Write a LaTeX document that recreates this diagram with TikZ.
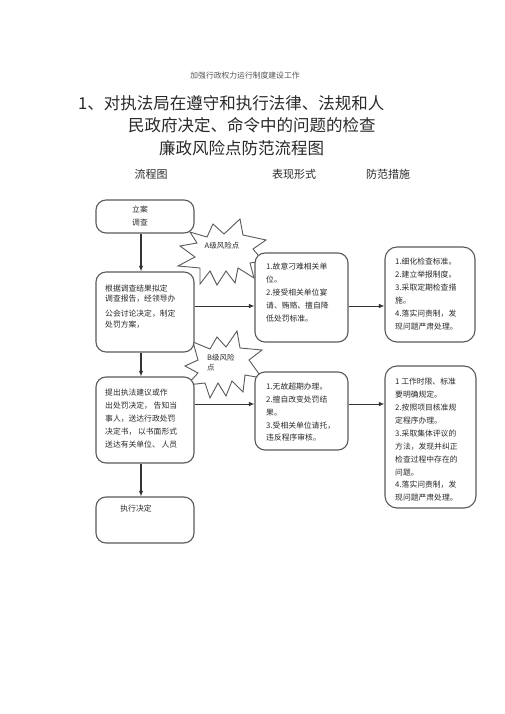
\documentclass[tikz,border=0pt]{standalone}
\usepackage{fontspec}
\setmainfont{Noto Sans CJK SC}
\usetikzlibrary{arrows.meta}
\definecolor{boxgray}{HTML}{5A5A5A}
\definecolor{arrgray}{HTML}{333333}
\definecolor{textc}{HTML}{2A2A2A}
\definecolor{headc}{HTML}{555555}
\begin{document}
\begin{tikzpicture}[x=1pt,y=-1pt,
  box/.style={draw=boxgray, line width=1.1pt, rounded corners=10pt, fill=white, inner sep=0pt},
  arr/.style={draw=arrgray, line width=1pt, -{Latex[length=5.5pt,width=4.5pt]}},
  varr/.style={arr, line width=1.6pt},
  txt/.style={inner sep=0pt, align=left, anchor=north west, text=textc},
  starline/.style={draw=boxgray, line width=0.9pt, fill=white, line join=miter},
  title/.style={inner sep=0pt, anchor=west, text=textc, font=\fontsize{16.5}{18}\selectfont},
  colhead/.style={inner sep=0pt, text=textc, font=\fontsize{11}{13}\selectfont}]
\useasboundingbox (0,0) rectangle (505,714);
\fill[white] (0,0) rectangle (505,714);

% header and titles
\node[inner sep=0pt, text=headc, font=\fontsize{7.8}{9}\selectfont] (hdr) at (245,76) {加强行政权力运行制度建设工作};
\node[title] (t1) at (78,103) {1、对执法局在遵守和执行法律、法规和人};
\node[title] (t2) at (128,125) {民政府决定、命令中的问题的检查};
\node[title] (t3) at (159,148) {廉政风险点防范流程图};

\node[colhead] (h1) at (151,174) {流程图};
\node[colhead] (h2) at (294,174) {表现形式};
\node[colhead] (h3) at (388,174) {防范措施};

% stars
\draw[starline] (190,232) -- (207,237) -- (213,224) -- (224,234) -- (240,219) -- (243,235)
  -- (266,240) -- (253,249) -- (263,261) -- (250,263) -- (254,278) -- (238,268)
  -- (235,283) -- (226,271) -- (217,285) -- (210,271) -- (200,284) -- (200,268)
  -- (178,266) -- (195,257) -- (180,246) -- (197,243) -- cycle;
\draw[starline] (193,342) -- (210,349) -- (217,337) -- (226,347) -- (237,331) -- (240,348)
  -- (262,350) -- (249,360) -- (262,378) -- (245,375) -- (243,392) -- (232,381)
  -- (226,396) -- (218,383) -- (210,398) -- (205,383) -- (187,385) -- (198,373)
  -- (185,366) -- (198,360) -- cycle;
\node[inner sep=0pt, text=textc, font=\fontsize{7.5}{9}\selectfont] (sa) at (222,246) {A级风险点};
\node[inner sep=0pt, text=textc, align=left, anchor=north west, font=\fontsize{7.5}{10}\selectfont] (sb) at (207,354) {B级风险\\点};

% boxes
\node[box, minimum width=98pt, minimum height=33pt] (b1) at (145,216.5) {};
\node[box, minimum width=98pt, minimum height=80pt] (b2) at (145,312) {};
\node[box, minimum width=93pt, minimum height=89pt] (b3) at (301.5,297.5) {};
\node[box, minimum width=90pt, minimum height=95pt, rounded corners=12pt] (b4) at (430,294.5) {};
\node[box, minimum width=98pt, minimum height=86pt] (b5) at (145,420) {};
\node[box, minimum width=93pt, minimum height=78pt] (b6) at (301.5,411) {};
\node[box, minimum width=91pt, minimum height=142pt, rounded corners=12pt] (b7) at (430.5,437) {};
\node[box, minimum width=98pt, minimum height=46pt] (b8) at (145,520) {};

% box texts
\node[inner sep=0pt, align=center, text=textc, anchor=north, font=\fontsize{7.8}{13}\selectfont] (x1) at (140,206) {立案\\调查};
\node[txt, font=\fontsize{7.8}{10}\selectfont] (x2) at (105,285) {根据调查结果拟定\\调查报告，经领导办\\[5pt]公会讨论决定，制定\\[1pt]处罚方案，};
\node[txt, font=\fontsize{7.8}{13}\selectfont] (x3) at (266,263) {1.故意刁难相关单\\位。\\2.接受相关单位宴\\请、贿赂、擅自降\\低处罚标准。};
\node[txt, font=\fontsize{7.8}{13}\selectfont] (x4) at (395,258) {1.细化检查标准。\\2.建立举报制度。\\3.采取定期检查措\\施。\\4.落实问责制，发\\现问题严肃处理。};
\node[txt, font=\fontsize{7.8}{13}\selectfont] (x5) at (105,389) {提出执法建议或作\\出处罚决定， 告知当\\事人，送达行政处罚\\决定书， 以书面形式\\送达有关单位、 人员};
\node[txt, font=\fontsize{7.8}{12.75}\selectfont] (x6) at (266,383) {1.无故超期办理。\\2.擅自改变处罚结\\果。\\3.受相关单位请托，\\违反程序审核。};
\node[txt, font=\fontsize{7.8}{12.9}\selectfont] (x7) at (395,378) {1 工作时限、标准\\要明确规定。\\2.按照项目核准规\\定程序办理。\\3.采取集体评议的\\方法，发现并纠正\\检查过程中存在的\\问题。\\4.落实问责制，发\\现问题严肃处理。};
\node[inner sep=0pt, text=textc, font=\fontsize{7.8}{10}\selectfont] (x8) at (136,509) {执行决定};

% connectors
\draw[varr] ([xshift=-4pt]b1.south) -- ([xshift=-4pt]b1.south |- b2.north);
\draw[varr] ([xshift=-4pt]b2.south) -- ([xshift=-4pt]b2.south |- b5.north);
\draw[varr] ([xshift=-4pt]b5.south) -- ([xshift=-4pt]b5.south |- b8.north);
\draw[arr] ([yshift=6pt]b2.east) -- ([yshift=6pt]b2.east -| b3.west);
\draw[arr] ([yshift=-8.5pt]b3.east) -- ([yshift=-8.5pt]b3.east -| b4.west);
\draw[arr] ([yshift=16pt]b5.east) -- ([yshift=16pt]b5.east -| b6.west);
\draw[arr] ([yshift=7pt]b6.east) -- ([yshift=7pt]b6.east -| b7.west);
\end{tikzpicture}
\end{document}
